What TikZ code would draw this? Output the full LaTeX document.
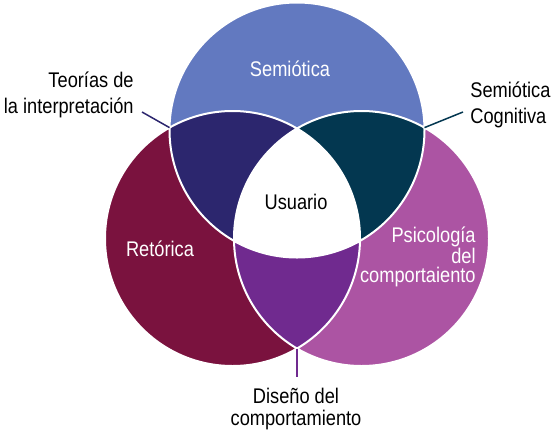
\documentclass[tikz,border=0pt]{standalone}
\usepackage{fontspec}
\setmainfont[FakeStretch=0.86]{Liberation Sans}
\usepackage{tikz}
\usetikzlibrary{positioning}
\definecolor{semblue}{RGB}{98,121,192}
\definecolor{retred}{RGB}{122,18,62}
\definecolor{psipink}{RGB}{172,84,163}
\definecolor{teonavy}{RGB}{44,38,110}
\definecolor{cogteal}{RGB}{3,55,80}
\definecolor{dispurple}{RGB}{112,42,143}
\tikzset{every picture/.style={line width=0.75pt}}
\newcommand{\vrad}{127.5pt}

\begin{document}
\begin{tikzpicture}[x=1pt,y=-1pt,
    lbl/.style={inner sep=0pt,font=\fontsize{21.2}{26.7}\selectfont},
    inlbl/.style={lbl,text=white},
    leader/.style={line width=1.5pt}]
  \useasboundingbox (0,0) rectangle (554,437);
  \coordinate (sem) at (297,130);
  \coordinate (ret) at (232.5,238.5);
  \coordinate (psi) at (361.5,238.5);
  \coordinate (tl) at (169.5,127.6);
  \coordinate (tr) at (424.5,127.6);
  \coordinate (lr) at (297,348.5);

    \fill[semblue] (sem) circle (\vrad);
    \fill[retred] (ret) circle (\vrad);
    \fill[psipink] (psi) circle (\vrad);
    \begin{scope}
      \clip (sem) circle (\vrad);
      \fill[teonavy] (ret) circle (\vrad);
      \fill[cogteal] (psi) circle (\vrad);
    \end{scope}
    \begin{scope}
      \clip (ret) circle (\vrad);
      \fill[dispurple] (psi) circle (\vrad);
      \clip (sem) circle (\vrad);
      \fill[white] (psi) circle (\vrad);
    \end{scope}
    \draw[white,line width=2pt] (sem) circle (\vrad) (ret) circle (\vrad) (psi) circle (\vrad);

    \node[inlbl] (semi) at (290,69) {Semiótica};
    \node[lbl] (usu) at (296,202) {Usuario};
    \node[inlbl] (reto) at (160,249) {Retórica};
    \node[inlbl,align=right,anchor=east,font=\fontsize{21.2}{19.5}\selectfont] (psico) at (476,257)
      {Psicología\\del\hspace*{0.45em}\\comportaiento};
    \node[lbl,align=right,anchor=east] (teo) at (134,95) {Teorías de\\la interpretación};
    \node[lbl,align=left,anchor=west] (cog) at (470,105) {Semiótica\\Cognitiva};
    \node[lbl,align=center,font=\fontsize{21.2}{22.7}\selectfont] (dis) at (296,409) {Diseño del\\comportamiento};

    \coordinate (teo-tip) at (142,112);
    \coordinate (cog-tip) at (463,112);
    \coordinate (dis-tip) at (297,377);
    \draw[leader,teonavy] (tl) -- (teo-tip);
    \draw[leader,cogteal] (tr) -- (cog-tip);
    \draw[leader,dispurple] (lr) -- (dis-tip);
\end{tikzpicture}
\end{document}
